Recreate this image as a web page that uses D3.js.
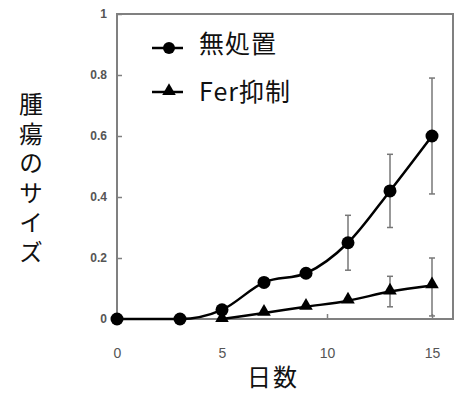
<!DOCTYPE html>
<html><head><meta charset="utf-8">
<script src="https://cdn.jsdelivr.net/npm/d3@7"></script>
<style>body{margin:0;background:#fff}svg{display:block}</style>
</head><body>
<svg id="c" width="454" height="397"></svg>
<script>
const days1 = [0, 3, 5, 7, 9, 11, 13, 15];
const untreated = [0, 0, 0.03, 0.12, 0.15, 0.25, 0.42, 0.60];
const untreatedLo = [null, null, null, null, null, 0.16, 0.30, 0.41];
const untreatedHi = [null, null, null, null, null, 0.34, 0.54, 0.79];
const days2 = [0, 3, 5, 7, 9, 11, 13, 15];
const ferInhib = [0, 0, 0, 0.02, 0.04, 0.06, 0.09, 0.11];
const ferLo = [null, null, null, null, null, null, 0.04, 0.01];
const ferHi = [null, null, null, null, null, null, 0.14, 0.20];
const xTicks = [0, 5, 10, 15];
const yTicks = [0, 0.2, 0.4, 0.6, 0.8, 1];
const seriesNames = ["無処置", "Fer抑制"];

const svg = d3.select("#c");
const x = d3.scaleLinear().domain([0, 16]).range([117, 453]);
const y = d3.scaleLinear().domain([0, 1]).range([319, 14]);
const axisColor = "#808080";
const tickFont = "Liberation Sans, Arial, sans-serif";
const cjk = "Noto Sans CJK JP, sans-serif";

// frame
svg.append("rect").attr("x", x(0)).attr("y", y(1)).attr("width", x(16) - x(0)).attr("height", y(0) - y(1))
  .attr("fill", "none").attr("stroke", axisColor).attr("stroke-width", 2);

// y axis ticks inward
const yAx = svg.append("g").attr("transform", `translate(${x(0)},0)`)
  .call(d3.axisRight(y).tickValues(yTicks).tickSize(5).tickFormat(d3.format("~g")));
yAx.select(".domain").remove();
yAx.selectAll("line").attr("stroke", axisColor).attr("stroke-width", 1.5);
yAx.selectAll("text").attr("x", -10).attr("text-anchor", "end").attr("fill", "#555")
  .style("font-family", tickFont).style("font-size", "12px").style("font-weight", "bold");

const xAx = svg.append("g").attr("transform", `translate(0,${y(0)})`)
  .call(d3.axisTop(x).tickValues(xTicks).tickSize(5));
xAx.select(".domain").remove();
xAx.selectAll("line").attr("stroke", axisColor).attr("stroke-width", 1.5);
xAx.selectAll("text").attr("y", 39).attr("dy", 0).attr("fill", "#555")
  .style("font-family", tickFont).style("font-size", "14px");

// error bars
function errBars(days, lo, hi) {
  const g = svg.append("g").attr("stroke", "#777").attr("stroke-width", 1.5);
  days.forEach((d, i) => {
    if (lo[i] == null) return;
    g.append("line").attr("x1", x(d)).attr("x2", x(d)).attr("y1", y(lo[i])).attr("y2", y(hi[i]));
    g.append("line").attr("x1", x(d) - 3).attr("x2", x(d) + 3).attr("y1", y(lo[i])).attr("y2", y(lo[i]));
    g.append("line").attr("x1", x(d) - 3).attr("x2", x(d) + 3).attr("y1", y(hi[i])).attr("y2", y(hi[i]));
  });
}
errBars(days1, untreatedLo, untreatedHi);
errBars(days2, ferLo, ferHi);

const line = d3.line().x(d => x(d[0])).y(d => y(d[1])).curve(d3.curveMonotoneX);
const pts2 = days2.map((d, i) => [d, ferInhib[i]]);
const pts1 = days1.map((d, i) => [d, untreated[i]]);
svg.append("path").attr("d", line(pts2.slice(2))).attr("fill", "none").attr("stroke", "#000").attr("stroke-width", 2.5);
svg.append("path").attr("d", line(pts1)).attr("fill", "none").attr("stroke", "#000").attr("stroke-width", 2.5);

const tri = d3.symbol().type(d3.symbolTriangle).size(80);
svg.append("g").selectAll("path").data(pts2.slice(2)).join("path")
  .attr("d", tri).attr("transform", d => `translate(${x(d[0])},${y(d[1]) - 1})`).attr("fill", "#000");
svg.append("g").selectAll("circle").data(pts1).join("circle")
  .attr("cx", d => x(d[0])).attr("cy", d => y(d[1])).attr("r", 6.5).attr("fill", "#000");

// legend
const lg = svg.append("g");
const legY = [48, 92];
const legTextY = [44, 92];
seriesNames.forEach((n, i) => {
  lg.append("line").attr("x1", 152).attr("x2", 183).attr("y1", legY[i]).attr("y2", legY[i])
    .attr("stroke", "#000").attr("stroke-width", 2.5);
  if (i === 0) lg.append("circle").attr("cx", 169).attr("cy", legY[i]).attr("r", 6).attr("fill", "#000");
  else lg.append("path").attr("d", tri).attr("transform", `translate(169,${legY[i] - 1})`).attr("fill", "#000");
  lg.append("text").attr("x", 199).attr("y", legTextY[i]).attr("dy", "0.36em").text(n)
    .style("font-family", cjk).style("font-size", "25px").style("letter-spacing", "1px").attr("fill", "#111");
});

// axis titles
svg.append("text").attr("x", 273).attr("y", 386).attr("text-anchor", "middle").text("日数")
  .style("font-family", cjk).style("font-size", "24px").style("letter-spacing", "2px").attr("fill", "#111");
svg.append("text").attr("x", 31).attr("y", 92).text("腫瘍のサイズ")
  .style("font-family", cjk).style("font-size", "24px")
  .style("writing-mode", "vertical-rl").style("text-orientation", "upright").style("letter-spacing", "5.5px")
  .attr("fill", "#111");
</script>
</body></html>
